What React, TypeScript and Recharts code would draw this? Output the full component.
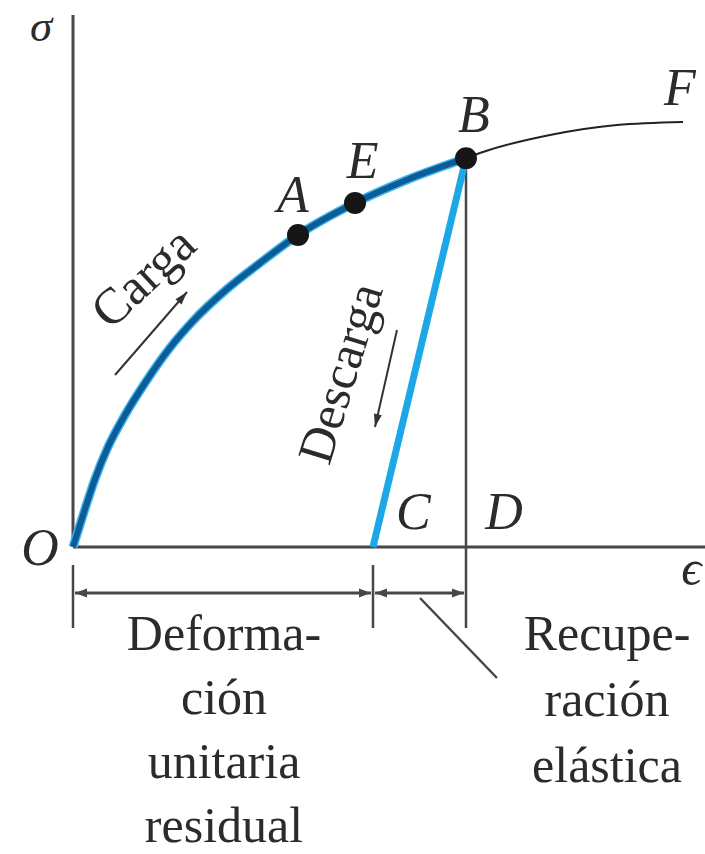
import React from 'react';
import { ComposedChart, Line, Scatter, XAxis, YAxis, ReferenceLine, ReferenceDot } from 'recharts';

// Stress–strain curve values (ε, σ) in arbitrary units
const loadingCurve = [
  { x: 0, y: 0 },
  { x: 0.3, y: 0.95 },
  { x: 0.55, y: 1.7 },
  { x: 0.875, y: 2.5 },
  { x: 1.3, y: 3.3 },
  { x: 1.8, y: 4.1 },
  { x: 2.4, y: 4.95 },
  { x: 3.0, y: 5.65 },
  { x: 3.85, y: 6.45 },
  { x: 4.675, y: 7.1 },
  { x: 5.625, y: 7.8 },
  { x: 7.05, y: 8.6 },
  { x: 8.4, y: 9.2 },
  { x: 9.825, y: 9.72 },
];
const hardeningCurve = [
  { x: 9.825, y: 9.72 },
  { x: 10.25, y: 9.875 },
  { x: 11.925, y: 10.3 },
  { x: 13.6, y: 10.55 },
  { x: 15.25, y: 10.625 },
];
const unloadingLine = [
  { x: 9.825, y: 9.72 },
  { x: 7.5, y: 0 },
];
const markedPoints = [
  { name: 'A', x: 5.625, y: 7.8 },
  { name: 'E', x: 7.05, y: 8.6 },
  { name: 'B', x: 9.825, y: 9.72 },
];
const pointLabels = [
  { text: 'A', x: 5.5, y: 8.375 },
  { text: 'E', x: 7.24, y: 9.225 },
  { text: 'B', x: 10.025, y: 10.375 },
  { text: 'F', x: 15.175, y: 11.05 },
  { text: 'C', x: 8.51, y: 0.45 },
  { text: 'D', x: 10.775, y: 0.45 },
  { text: 'O', x: -0.825, y: -0.45 },
];
const axisLabels = [
  { text: 'σ', x: -0.8, y: 12.65, size: 45 },
  { text: 'ϵ', x: 15.46, y: -0.95, size: 50 },
];
const residualLines = ['Deforma-', 'ción', 'unitaria', 'residual'];
const recoveryLines = ['Recupe-', 'ración', 'elástica'];
const residualAnchor = { x: 3.775, y: -2.575 };
const recoveryAnchor = { x: 13.35, y: -2.575 };
const xDomain: [number, number] = [-1.825, 15.8];
const yDomain: [number, number] = [-7.675, 13.675];
const strainC = 7.5;
const strainD = 9.825;
const dimY = -1.15;
const tickTop = -0.45;
const tickBottom = -2.025;

const SERIF = '"Liberation Serif", "DejaVu Serif", serif';
const INK = '#2b2b2b';
const AXIS = '#474747';

const lineWithHeads = (startHead: boolean, endHead: boolean, color: string, w: number, L = 12, W = 9) =>
  (p: any) => {
    const { x1, y1, x2, y2 } = p;
    const dx = x2 - x1;
    const dy = y2 - y1;
    const len = Math.sqrt(dx * dx + dy * dy) || 1;
    const ux = dx / len;
    const uy = dy / len;
    const nx = -uy;
    const ny = ux;
    const head = (tx: number, ty: number, dirx: number, diry: number) => {
      const bx = tx - dirx * L;
      const by = ty - diry * L;
      return `${tx},${ty} ${bx + nx * W / 2},${by + ny * W / 2} ${bx - nx * W / 2},${by - ny * W / 2}`;
    };
    return (
      <g>
        <line x1={x1} y1={y1} x2={x2} y2={y2} stroke={color} strokeWidth={w} />
        {startHead && <polygon points={head(x1, y1, -ux, -uy)} fill={color} />}
        {endHead && <polygon points={head(x2, y2, ux, uy)} fill={color} />}
      </g>
    );
  };

const plainLine = (color: string, w: number) => (p: any) => (
  <line x1={p.x1} y1={p.y1} x2={p.x2} y2={p.y2} stroke={color} strokeWidth={w} />
);

const letterShape = (text: string, size = 52, italic = true) => (p: any) => (
  <text x={p.cx} y={p.cy} textAnchor="middle" fontFamily={SERIF} fontStyle={italic ? 'italic' : 'normal'} fontSize={size} fill={INK}>
    {text}
  </text>
);

const rotatedShape = (text: string, angle: number, size: number) => (p: any) => (
  <text
    x={p.cx}
    y={p.cy}
    textAnchor="middle"
    dominantBaseline="central"
    fontFamily={SERIF}
    fontSize={size}
    fill={INK}
    transform={`rotate(${angle} ${p.cx} ${p.cy})`}
  >
    {text}
  </text>
);

const blockShape = (lines: string[], size: number, step: number) => (p: any) => (
  <text x={p.cx} y={p.cy} textAnchor="middle" fontFamily={SERIF} fontSize={size} fill={INK}>
    {lines.map((l, i) => (
      <tspan key={i} x={p.cx} dy={i === 0 ? 0 : step}>
        {l}
      </tspan>
    ))}
  </text>
);

const dotShape = (p: any) => <circle cx={p.cx} cy={p.cy} r={11} fill="#161616" />;

export default function App() {
  return (
    <div style={{ position: 'absolute', left: 0, top: 0, width: 705, height: 854, background: '#fff' }}>
      <ComposedChart width={705} height={854} margin={{ top: 0, right: 0, bottom: 0, left: 0 }}>
        <XAxis type="number" dataKey="x" domain={xDomain} allowDataOverflow hide />
        <YAxis type="number" dataKey="y" domain={yDomain} allowDataOverflow hide />

        {/* axes */}
        <ReferenceLine segment={[{ x: 0, y: 0 }, { x: xDomain[1], y: 0 }]} shape={plainLine(AXIS, 3)} />
        <ReferenceLine segment={[{ x: 0, y: 0 }, { x: 0, y: 13.3 }]} shape={plainLine(AXIS, 3)} />
        {/* B-D vertical and dimension ticks */}
        <ReferenceLine segment={[{ x: strainD, y: 9.72 }, { x: strainD, y: tickBottom }]} shape={plainLine(AXIS, 2.5)} />
        <ReferenceLine segment={[{ x: 0, y: tickTop }, { x: 0, y: tickBottom }]} shape={plainLine(AXIS, 2.5)} />
        <ReferenceLine segment={[{ x: strainC, y: tickTop }, { x: strainC, y: tickBottom }]} shape={plainLine(AXIS, 2.5)} />
        {/* dimension arrows */}
        <ReferenceLine segment={[{ x: 0.05, y: dimY }, { x: strainC - 0.05, y: dimY }]} shape={lineWithHeads(true, true, AXIS, 3)} />
        <ReferenceLine segment={[{ x: strainC + 0.05, y: dimY }, { x: strainD - 0.05, y: dimY }]} shape={lineWithHeads(true, true, AXIS, 3)} />
        {/* leader */}
        <ReferenceLine segment={[{ x: 8.675, y: -1.275 }, { x: 10.6, y: -3.275 }]} shape={plainLine(AXIS, 2.5)} />
        {/* Carga / Descarga arrows */}
        <ReferenceLine segment={[{ x: 1.05, y: 4.3 }, { x: 2.85, y: 6.375 }]} shape={lineWithHeads(false, true, '#333', 2, 13, 8)} />
        <ReferenceLine segment={[{ x: 8.1, y: 5.425 }, { x: 7.55, y: 3.0 }]} shape={lineWithHeads(false, true, '#333', 2, 13, 8)} />

        <Line data={hardeningCurve} dataKey="y" type="monotone" stroke="#222" strokeWidth={2} dot={false} activeDot={false} isAnimationActive={false} />
        <Line data={loadingCurve} dataKey="y" type="monotone" stroke="#3db4ec" strokeWidth={9} dot={false} activeDot={false} isAnimationActive={false} />
        <Line data={loadingCurve} dataKey="y" type="monotone" stroke="#0b5c97" strokeWidth={6} dot={false} activeDot={false} isAnimationActive={false} />
        <Line data={unloadingLine} dataKey="y" type="linear" stroke="#1ea7e6" strokeWidth={7} dot={false} activeDot={false} isAnimationActive={false} />
        <Scatter data={markedPoints} dataKey="y" shape={dotShape} isAnimationActive={false} />

        {pointLabels.map((l) => (
          <ReferenceDot key={l.text} x={l.x} y={l.y} shape={letterShape(l.text, 52)} />
        ))}
        {axisLabels.map((l) => (
          <ReferenceDot key={l.text} x={l.x} y={l.y} shape={letterShape(l.text, l.size)} />
        ))}
        <ReferenceDot x={1.75} y={6.75} shape={rotatedShape('Carga', -43, 51)} />
        <ReferenceDot x={6.675} y={4.35} shape={rotatedShape('Descarga', -73, 50)} />
        <ReferenceDot x={residualAnchor.x} y={residualAnchor.y} shape={blockShape(residualLines, 50, 64)} />
        <ReferenceDot x={recoveryAnchor.x} y={recoveryAnchor.y} shape={blockShape(recoveryLines, 50, 66)} />
      </ComposedChart>
    </div>
  );
}
